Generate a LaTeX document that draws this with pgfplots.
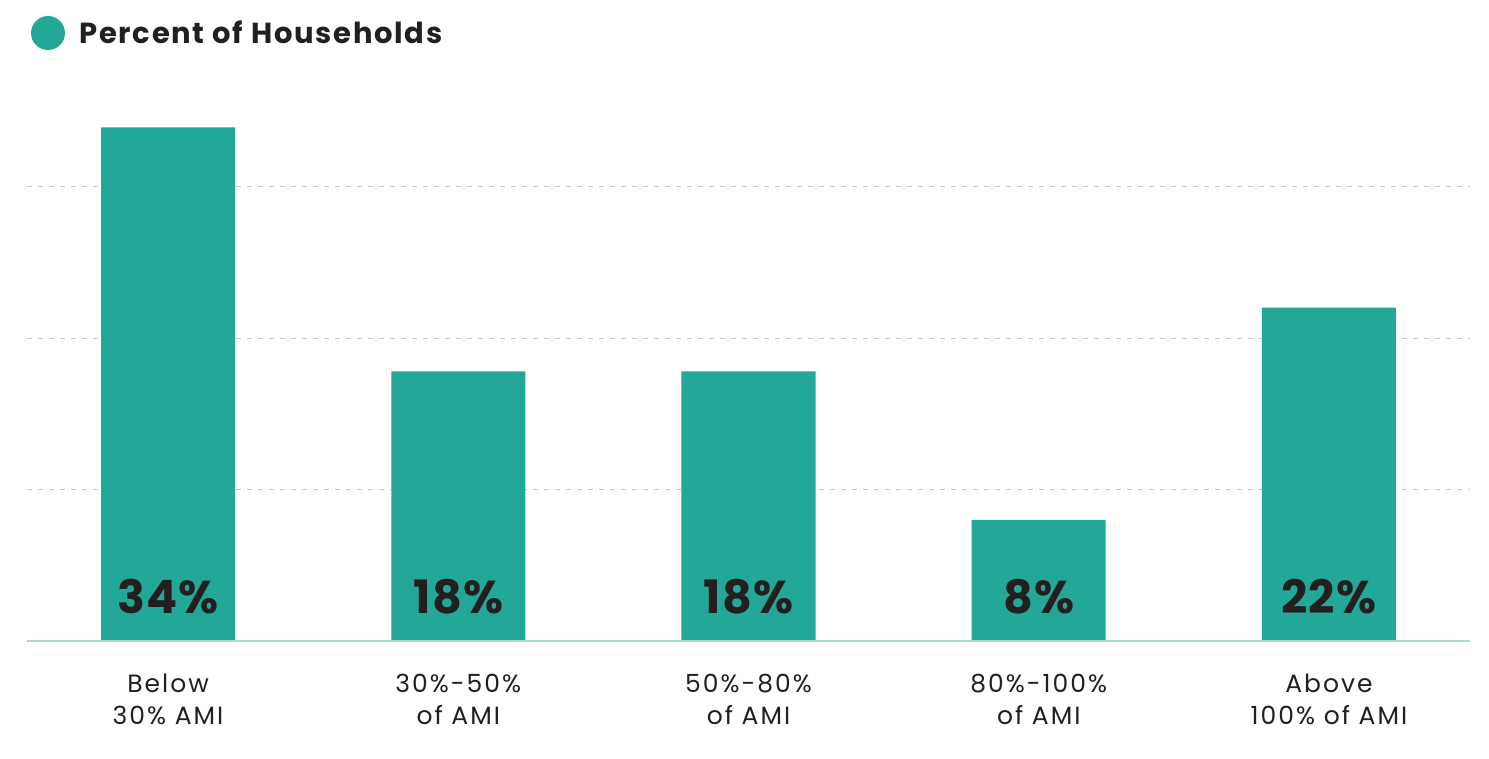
\documentclass[border=0pt]{standalone}
\usepackage{pgfplots}
\pgfplotsset{compat=1.18}
\usepackage{fontspec}
\setmainfont{Poppins}
\newfontfamily\titlefont{Poppins}[LetterSpace=6]
\newfontfamily\tickfont{Poppins}[LetterSpace=8]
\newfontfamily\valfont{Poppins}[LetterSpace=3]
\definecolor{barc}{RGB}{35,167,151}
\definecolor{txt}{RGB}{35,31,32}
\definecolor{basec}{RGB}{169,220,194}
\definecolor{gridc}{RGB}{200,200,200}
\begin{document}
\begin{tikzpicture}[x=1pt,y=1pt]
\useasboundingbox (0,0) rectangle (1489,-758);
\fill[barc] (48,-33) circle (17);
\node[anchor=base west, inner sep=0, text=txt, font=\titlefont\fontsize{29}{34}\selectfont\bfseries] at (79,-43) {Percent of Households};
\begin{axis}[
  at={(27pt,-641pt)}, anchor=south west,
  scale only axis, width=1443pt, height=575.7pt,
  xmin=-0.486, xmax=4.486, ymin=0, ymax=38,
  axis line style={draw=none},
  ytick={10,20,30}, yticklabels={},
  ymajorgrids, major grid style={gridc, line width=1pt, dash pattern=on 5pt off 6pt},
  major tick length=0pt,
  xtick={0,1,2,3,4},
  xticklabels={Below\\30\% AMI, 30\%-50\%\\of AMI, 50\%-80\%\\of AMI, 80\%-100\%\\of AMI, Above\\100\% of AMI},
  xticklabel style={align=center, text=txt, font=\tickfont\fontsize{25}{32}\selectfont, anchor=north, inner sep=0pt, yshift=-33pt},
  clip=false,
]
\addplot[ybar, bar width=134pt, fill=barc, draw=none] coordinates {(0,33.9) (1,17.8) (2,17.8) (3,8.0) (4,22.0)};
\draw[basec, line width=2.5pt] (axis cs:-0.486,0) -- (axis cs:4.486,0);
\addplot[draw=none, mark=none, nodes near coords, point meta=explicit symbolic,
  every node near coord/.style={anchor=base, yshift=28pt, inner sep=0pt, text=txt, font=\valfont\fontsize{46}{56}\selectfont\bfseries}]
  coordinates {(0,0) [34\%] (1,0) [18\%] (2,0) [18\%] (3,0) [8\%] (4,0) [22\%]};
\end{axis}
\end{tikzpicture}
\end{document}
